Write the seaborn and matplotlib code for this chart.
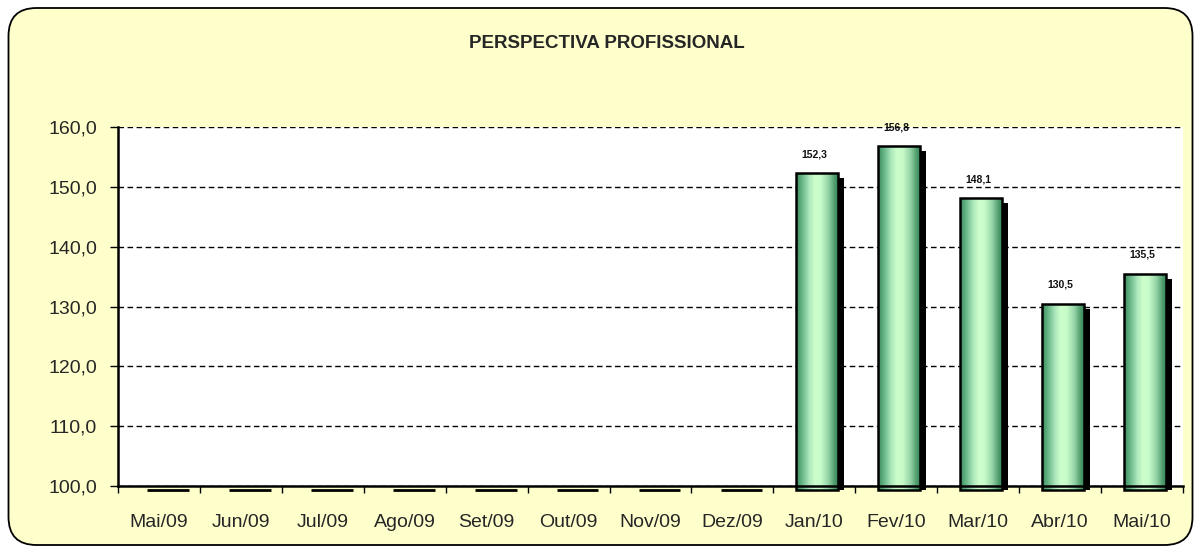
import numpy as np
import pandas as pd
import matplotlib
matplotlib.use("Agg")
import matplotlib.pyplot as plt
import matplotlib.transforms as mtransforms
from matplotlib.patches import FancyBboxPatch
from matplotlib.colors import LinearSegmentedColormap
import seaborn as sns

months = ["Mai/09", "Jun/09", "Jul/09", "Ago/09", "Set/09", "Out/09", "Nov/09",
          "Dez/09", "Jan/10", "Fev/10", "Mar/10", "Abr/10", "Mai/10"]
values = [np.nan, np.nan, np.nan, np.nan, np.nan, np.nan, np.nan, np.nan,
          152.3, 156.8, 148.1, 130.5, 135.5]
title = "PERSPECTIVA PROFISSIONAL"
y_ticks = [100, 110, 120, 130, 140, 150, 160]

sns.set_theme(style="white")
plt.rcParams['font.family'] = ['Liberation Sans', 'DejaVu Sans']

df = pd.DataFrame({"mes": months, "valor": values})

W, H = 1201, 550
fig = plt.figure(figsize=(W / 100, H / 100), dpi=100)
fig.patch.set_facecolor("white")
border = FancyBboxPatch((0.085, 0.05), 11.84, 5.37,
                        boxstyle="round,pad=0,rounding_size=0.28",
                        transform=fig.dpi_scale_trans, facecolor="#FFFFCC",
                        edgecolor="black", linewidth=1.3, zorder=-10)
fig.patches.append(border)

ax_l, ax_r, ax_t, ax_b = 118, 1183, 127, 486
ax = fig.add_axes([ax_l / W, 1 - ax_b / H, (ax_r - ax_l) / W, (ax_b - ax_t) / H])
ax.set_zorder(1)
ax.set_facecolor("white")
ax.set_xlim(-0.5, len(months) - 0.5)
ax.set_ylim(100, 160)
px_per_unit = (ax_b - ax_t) / 60.0
ext = 4 / px_per_unit          # bars run a few pixels below the axis line
dx, dy = 6, 5                  # shadow offset in pixels
bar_shift = mtransforms.ScaledTranslation(3 / 100, 0, fig.dpi_scale_trans)

# shadow bars
shadow_tr = ax.transData + bar_shift + mtransforms.ScaledTranslation(dx / 100, -dy / 100, fig.dpi_scale_trans)
sns.barplot(data=df, x="mes", y="valor", ax=ax, color="black", width=0.51,
            saturation=1, zorder=2)
shadows = list(ax.patches)
for p in shadows:
    p.set_transform(shadow_tr)
    p.set_linewidth(0)
    top = p.get_y() + p.get_height()
    p.set_y(100 - ext + dy / px_per_unit)
    p.set_height(top - p.get_y())
    p.set_clip_on(False)

sns.barplot(data=df, x="mes", y="valor", ax=ax, color="#88cc99", width=0.51,
            saturation=1, zorder=3)
bars = [p for p in ax.patches if p not in shadows]

cmap = LinearSegmentedColormap.from_list(
    "cyl", [(0.0, "#3a8a5c"), (0.15, "#6ab888"), (0.32, "#aee8bc"), (0.45, "#ccffcc"),
            (0.6, "#c6fac8"), (0.78, "#92d2a4"), (0.92, "#4f9c6c"), (1.0, "#3a8a5c")])
grad = np.linspace(0, 1, 256).reshape(1, -1)
bar_tr = ax.transData + bar_shift
for p in bars:
    x0 = p.get_x(); w = p.get_width()
    v = p.get_y() + p.get_height()
    p.set_y(100 - ext)
    p.set_height(v - (100 - ext))
    p.set_transform(bar_tr)
    p.set_clip_on(False)
    im = ax.imshow(grad, cmap=cmap, aspect="auto", extent=[x0, x0 + w, 100 - ext, v],
                   zorder=3.5, interpolation="bicubic")
    im.set_transform(bar_tr)
    im.set_clip_path(p)
    p.set_edgecolor("black"); p.set_linewidth(1.8); p.set_facecolor("none")
    p.set_zorder(4)
    ax.annotate(f"{v:.1f}".replace(".", ","), (x0 + w / 2, v), xytext=(0, 10),
                textcoords="offset points", ha="center", va="bottom",
                fontsize=7.5, fontweight="bold", color="#111111", zorder=5)
ax.set_xlim(-0.5, len(months) - 0.5)
ax.set_ylim(100, 160)

# flat marks for months without value (below axis line)
off = mtransforms.ScaledTranslation((dx + 3) / 100, 0, fig.dpi_scale_trans)
for i, v in enumerate(values):
    if np.isnan(v):
        ax.plot([i - 0.255, i + 0.255], [-4 / (ax_b - ax_t)] * 2, color="black",
                lw=2, transform=ax.get_xaxis_transform() + off, clip_on=False, zorder=6,
                solid_capstyle="butt")

ax.set_yticks(y_ticks)
ax.set_yticklabels([f"{t:.1f}".replace(".", ",") for t in y_ticks], fontsize=14)
ax.set_xticks(range(len(months)))
ax.set_xticklabels(months, fontsize=14)
ax.set_xticks(np.arange(-0.5, len(months), 1), minor=True)
ax.tick_params(axis="x", which="major", length=0, pad=20)
ax.tick_params(axis="x", which="minor", length=5, width=1, color="black", direction="out", bottom=True)
ax.tick_params(axis="y", length=6, width=1, color="black", direction="out", pad=9, left=True)
ax.set_xlabel(""); ax.set_ylabel("")
for t in y_ticks:
    ax.axhline(t, color="black", lw=1.0, ls=(0, (4, 2.5)), zorder=1)
for s in ["top", "right"]:
    ax.spines[s].set_visible(False)
for s in ["left", "bottom"]:
    ax.spines[s].set_color("black"); ax.spines[s].set_linewidth(1.8)
    ax.spines[s].set_zorder(6)

fig.text(607 / W, 1 - 43 / H, title, ha="center", va="center", fontsize=13.5, fontweight="bold")
fig.savefig("out.png", dpi=100, facecolor=fig.get_facecolor())
